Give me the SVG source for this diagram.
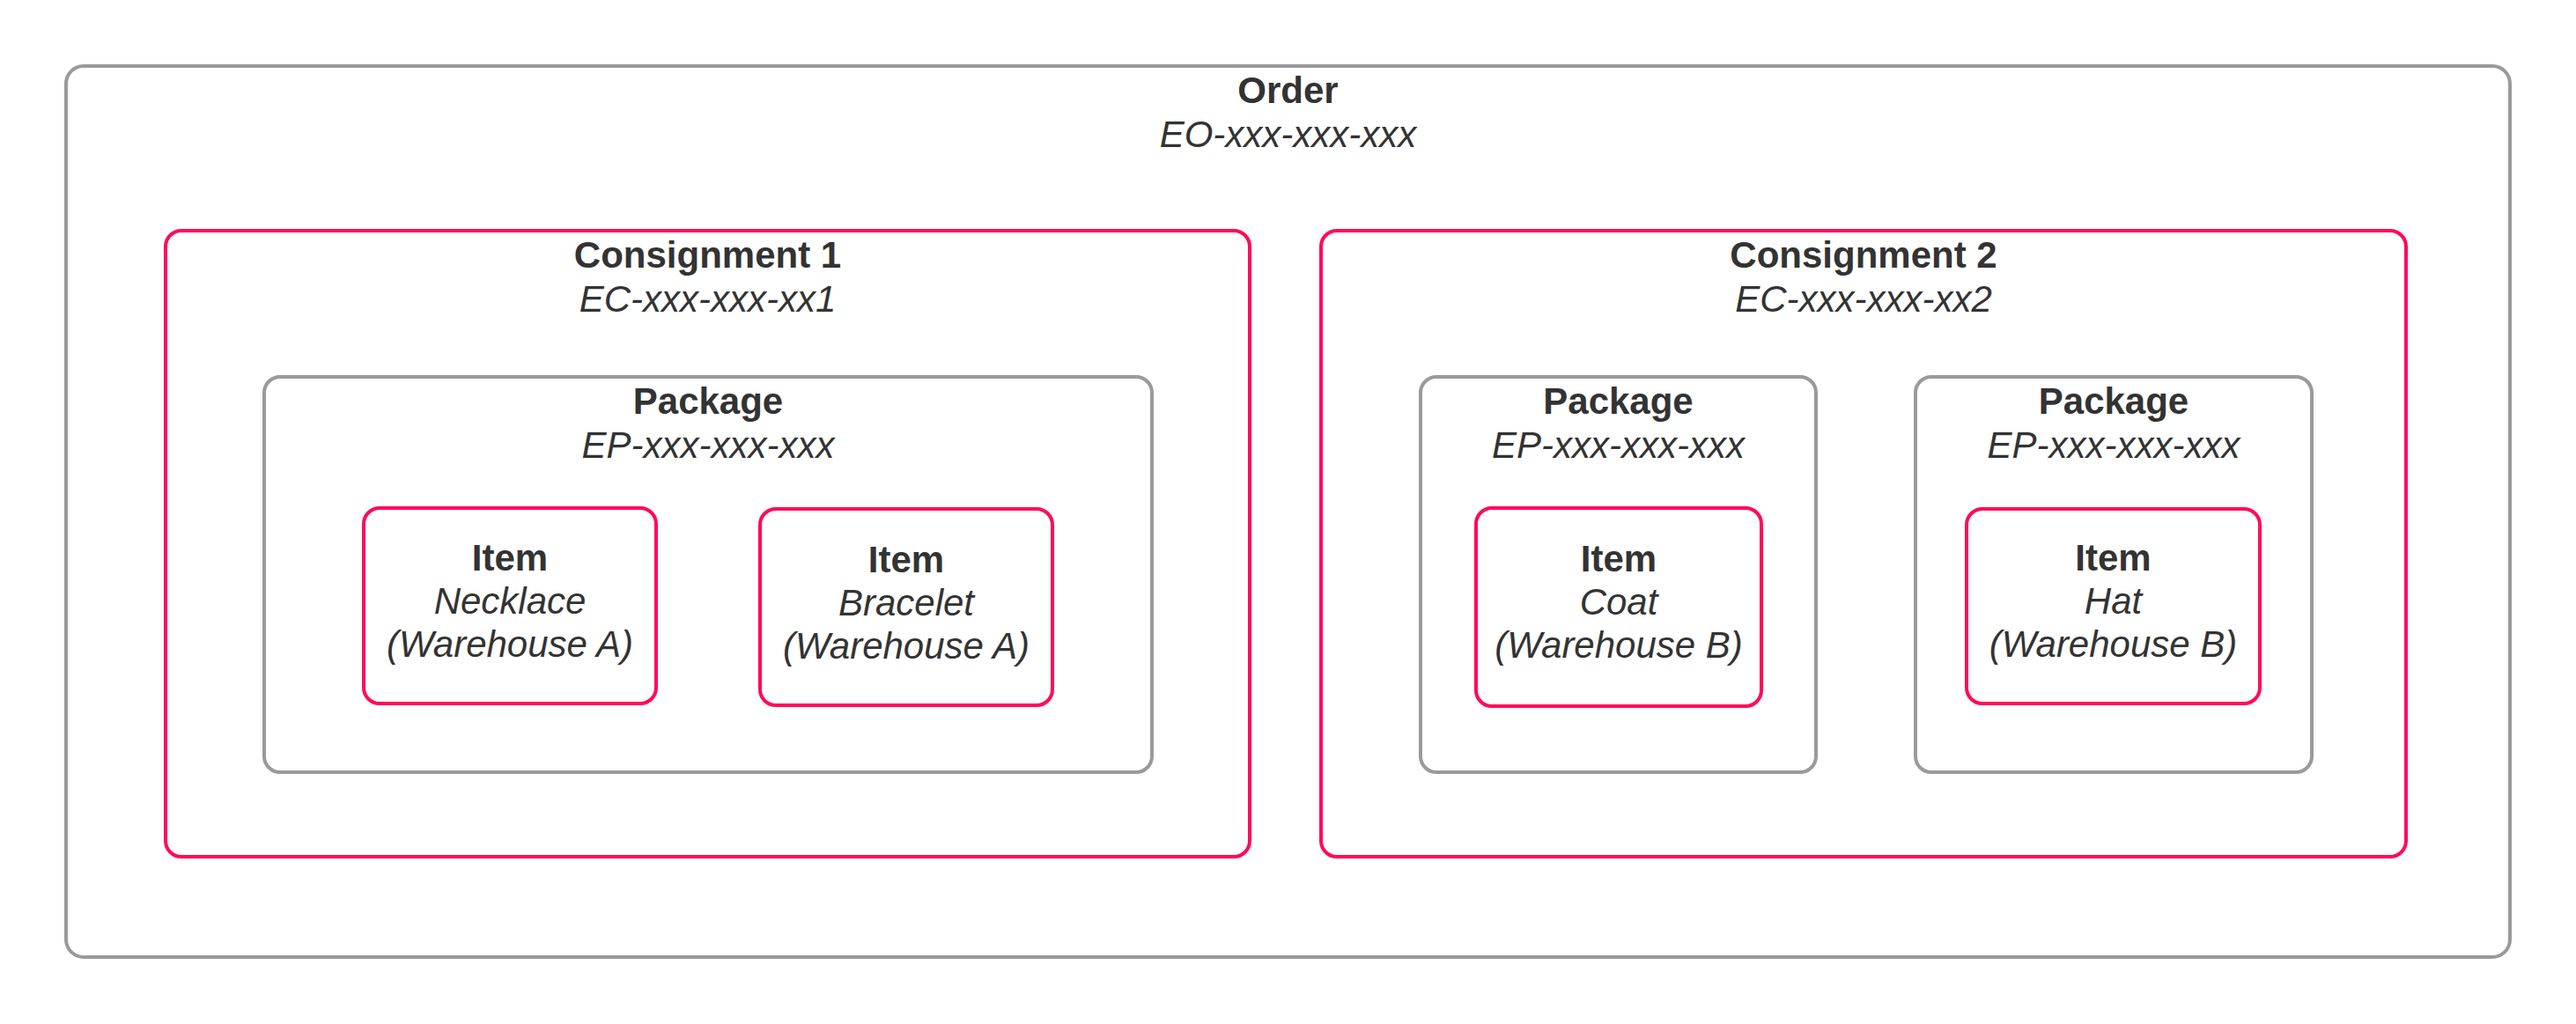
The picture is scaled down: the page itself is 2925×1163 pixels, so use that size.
<svg xmlns="http://www.w3.org/2000/svg" width="2925" height="1163" viewBox="0 0 2925 1163">
<style>
.gray{fill:#ffffff;stroke:#9a9a9a;stroke-width:4}
.pink{fill:#ffffff;stroke:#ff0a5a;stroke-width:4}
text{font-family:"Liberation Sans",Arial,sans-serif;font-size:42px;fill:#333333;text-anchor:middle}
.b{font-weight:bold}
.i{font-style:italic}
</style>
<rect width="2925" height="1163" fill="#ffffff"/>
<g id="order">
<rect class="gray" x="75" y="75" width="2775" height="1012" rx="20"/>
<text class="b" x="1462.5" y="117">Order</text>
<text class="i" x="1462.5" y="167">EO-xxx-xxx-xxx</text>
</g>
<g id="consignment1">
<rect class="pink" x="188" y="262" width="1231" height="711" rx="18"/>
<text class="b" x="803.5" y="304">Consignment 1</text>
<text class="i" x="803.5" y="354">EC-xxx-xxx-xx1</text>
</g>
<g id="consignment2">
<rect class="pink" x="1500" y="262" width="1232" height="711" rx="18"/>
<text class="b" x="2116" y="304">Consignment 2</text>
<text class="i" x="2116" y="354">EC-xxx-xxx-xx2</text>
</g>
<g id="package1">
<rect class="gray" x="300" y="428" width="1008" height="449" rx="18"/>
<text class="b" x="804" y="470">Package</text>
<text class="i" x="804" y="520">EP-xxx-xxx-xxx</text>
</g>
<g id="package2">
<rect class="gray" x="1613" y="428" width="449" height="449" rx="18"/>
<text class="b" x="1837.5" y="470">Package</text>
<text class="i" x="1837.5" y="520">EP-xxx-xxx-xxx</text>
</g>
<g id="package3">
<rect class="gray" x="2175" y="428" width="450" height="449" rx="18"/>
<text class="b" x="2400" y="470">Package</text>
<text class="i" x="2400" y="520">EP-xxx-xxx-xxx</text>
</g>
<g id="item-necklace">
<rect class="pink" x="413" y="577" width="332" height="222" rx="18"/>
<text class="b" x="579" y="648">Item</text>
<text class="i" x="579" y="697">Necklace</text>
<text class="i" x="579" y="746">(Warehouse A)</text>
</g>
<g id="item-bracelet">
<rect class="pink" x="863" y="578" width="332" height="223" rx="18"/>
<text class="b" x="1029" y="650">Item</text>
<text class="i" x="1029" y="699">Bracelet</text>
<text class="i" x="1029" y="748">(Warehouse A)</text>
</g>
<g id="item-coat">
<rect class="pink" x="1676" y="577" width="324" height="225" rx="18"/>
<text class="b" x="1838" y="649">Item</text>
<text class="i" x="1838" y="698">Coat</text>
<text class="i" x="1838" y="747">(Warehouse B)</text>
</g>
<g id="item-hat">
<rect class="pink" x="2233" y="578" width="333" height="221" rx="18"/>
<text class="b" x="2399.5" y="648">Item</text>
<text class="i" x="2399.5" y="697">Hat</text>
<text class="i" x="2399.5" y="746">(Warehouse B)</text>
</g>
<g id="connectors"/>
</svg>
